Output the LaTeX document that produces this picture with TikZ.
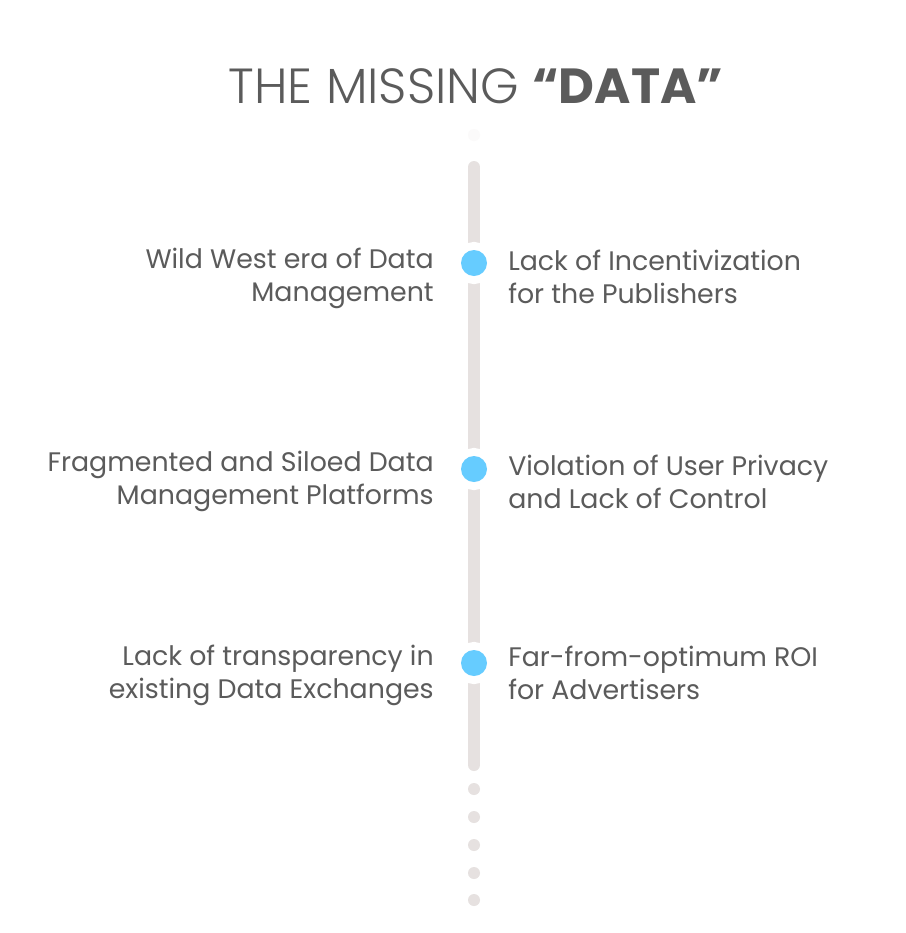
\documentclass[tikz,border=0pt]{standalone}
\usepackage{fontspec}
\setmainfont{Poppins}
\newfontfamily\titlefont{Poppins Light}
\usetikzlibrary{positioning}
\definecolor{txtgray}{HTML}{5B5B5B}
\definecolor{dotblue}{HTML}{66CCFF}
\definecolor{linegray}{HTML}{E6E1E0}

\begin{document}
\begin{tikzpicture}[x=0.75pt, y=-0.75pt,
    spine/.style={line width=9pt, draw=linegray, line cap=round},
    dot/.style={circle, fill=dotblue, minimum size=19.5pt, inner sep=0pt, preaction={draw=white, line width=12pt}},
    tail/.style={circle, fill=linegray, minimum size=9pt, inner sep=0pt},
    lefttxt/.style={anchor=north east, align=right, inner sep=0pt, text=txtgray, font=\fontsize{20.1}{24.75}\selectfont},
    righttxt/.style={anchor=north west, align=left, inner sep=0pt, text=txtgray, font=\fontsize{20.1}{24.75}\selectfont}
]
    \useasboundingbox[fill=white] (0,0) rectangle (906,933);

    % Title
    \node[text=txtgray, font=\fontsize{37}{40}\selectfont] (title) at (476,86) {{\titlefont THE MISSING} \textbf{``DATA''}};

    % Timeline
    \node[tail, fill=linegray!15] (fade) at (474,135) {};
    \coordinate (top) at (474,167);
    \coordinate (bottom) at (474,765);
    \draw[spine] (top) -- (bottom);

    \node[dot] (d1) at (474,263) {};
    \node[dot] (d2) at (474,469) {};
    \node[dot] (d3) at (474,663) {};

    % Trailing dots
    \node[tail] (t1) at (474,789) {};
    \node[tail] (t2) at (474,817) {};
    \node[tail] (t3) at (474,845) {};
    \node[tail] (t4) at (474,873) {};
    \node[tail] (t5) at (474,900) {};

    % Problems
    \node[lefttxt] (wild) at (434,248) {Wild West era of Data\\Management};
    \node[lefttxt] (frag) at (434,451) {Fragmented and Siloed Data\\Management Platforms};
    \node[lefttxt] (trans) at (434,645) {Lack of transparency in\\existing Data Exchanges};

    \node[righttxt] (incent) at (508,250) {Lack of Incentivization\\for the Publishers};
    \node[righttxt] (privacy) at (508,455) {Violation of User Privacy\\and Lack of Control};
    \node[righttxt] (roi) at (508,646) {Far-from-optimum ROI\\for Advertisers};
\end{tikzpicture}
\end{document}
